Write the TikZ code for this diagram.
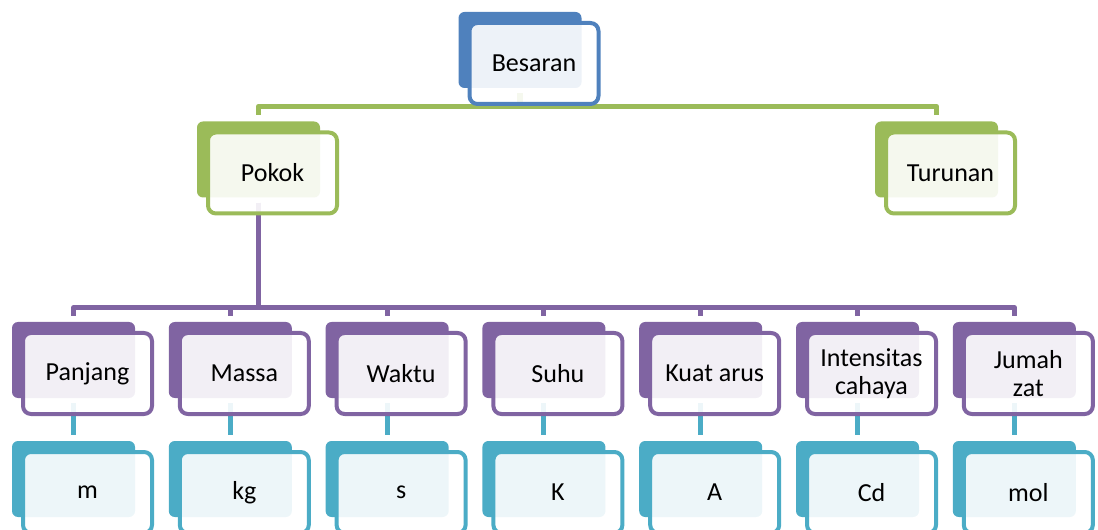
\documentclass[tikz,border=0pt]{standalone}
\usepackage{fontspec}
\setmainfont{Carlito}
\definecolor{biru}{HTML}{4F81BD}
\definecolor{hijau}{HTML}{9BBB59}
\definecolor{ungu}{HTML}{8064A2}
\definecolor{toska}{HTML}{4BACC6}
\begin{document}
\begin{tikzpicture}[x=0.75pt,y=-0.75pt,line join=round,
  belakang/.style={rectangle,rounded corners=4.5pt,inner sep=0pt,minimum width=92.25pt,minimum height=57pt,fill=#1},
  depan/.style={rectangle,rounded corners=6pt,inner sep=2pt,minimum width=96.75pt,minimum height=60.75pt,draw=#1,line width=3pt,fill=white,fill opacity=0.9,text opacity=1,align=center,font=\fontsize{19.5}{21}\selectfont},
  garis/.style={draw=#1,line width=3.8pt,shorten <=3.75pt,shorten >=4.5pt}]
\useasboundingbox (0,0) rectangle (1098,530);
% kotak belakang
\node[belakang=biru] (besaran) at (520,50) {};
\node[belakang=hijau] (pokok) at (258.5,159.5) {};
\node[belakang=hijau] (turunan) at (936.5,159.5) {};
\node[belakang=ungu] (panjang) at (73.5,360) {};
\node[belakang=ungu] (massa) at (230.3,360) {};
\node[belakang=ungu] (waktu) at (387.1,360) {};
\node[belakang=ungu] (suhu) at (543.9,360) {};
\node[belakang=ungu] (kuatarus) at (700.7,360) {};
\node[belakang=ungu] (intensitas) at (857.5,360) {};
\node[belakang=ungu] (jumah) at (1014.3,360) {};
\node[belakang=toska] (m) at (73.5,479) {};
\node[belakang=toska] (kg) at (230.3,479) {};
\node[belakang=toska] (s) at (387.1,479) {};
\node[belakang=toska] (K) at (543.9,479) {};
\node[belakang=toska] (A) at (700.7,479) {};
\node[belakang=toska] (cd) at (857.5,479) {};
\node[belakang=toska] (mol) at (1014.3,479) {};
% garis penghubung
\draw[garis=hijau] (besaran.south) -- ++(0,18) -| (pokok.north);
\draw[garis=hijau] (besaran.south) -- ++(0,18) -| (turunan.north);
\draw[garis=ungu] (pokok.south) -- ++(0,110) -| (panjang.north);
\draw[garis=ungu] (pokok.south) -- ++(0,110) -| (massa.north);
\draw[garis=ungu] (pokok.south) -- ++(0,110) -| (waktu.north);
\draw[garis=ungu] (pokok.south) -- ++(0,110) -| (suhu.north);
\draw[garis=ungu] (pokok.south) -- ++(0,110) -| (kuatarus.north);
\draw[garis=ungu] (pokok.south) -- ++(0,110) -| (intensitas.north);
\draw[garis=ungu] (pokok.south) -- ++(0,110) -| (jumah.north);
\draw[garis=toska] (panjang.south) -- (m.north);
\draw[garis=toska] (massa.south) -- (kg.north);
\draw[garis=toska] (waktu.south) -- (s.north);
\draw[garis=toska] (suhu.south) -- (K.north);
\draw[garis=toska] (kuatarus.south) -- (A.north);
\draw[garis=toska] (intensitas.south) -- (cd.north);
\draw[garis=toska] (jumah.south) -- (mol.north);
% kotak depan
\node[depan=biru] (besaran-t) at (534,63.5) {Besaran};
\node[depan=hijau] (pokok-t) at (272.5,173) {Pokok};
\node[depan=hijau] (turunan-t) at (950.5,173) {Turunan};
\node[depan=ungu] (panjang-t) at (87.5,373.5) {Panjang};
\node[depan=ungu] (massa-t) at (244.3,373.5) {Massa};
\node[depan=ungu] (waktu-t) at (401.1,373.5) {Waktu};
\node[depan=ungu] (suhu-t) at (557.9,373.5) {Suhu};
\node[depan=ungu] (kuatarus-t) at (714.7,373.5) {Kuat arus};
\node[depan=ungu] (intensitas-t) at (871.5,373.5) {Intensitas\\cahaya};
\node[depan=ungu] (jumah-t) at (1028.3,373.5) {Jumah\\zat};
\node[depan=toska] (m-t) at (87.5,492.5) {m};
\node[depan=toska] (kg-t) at (244.3,492.5) {kg};
\node[depan=toska] (s-t) at (401.1,492.5) {s};
\node[depan=toska] (K-t) at (557.9,492.5) {K};
\node[depan=toska] (A-t) at (714.7,492.5) {A};
\node[depan=toska] (cd-t) at (871.5,492.5) {Cd};
\node[depan=toska] (mol-t) at (1028.3,492.5) {mol};
\end{tikzpicture}
\end{document}
